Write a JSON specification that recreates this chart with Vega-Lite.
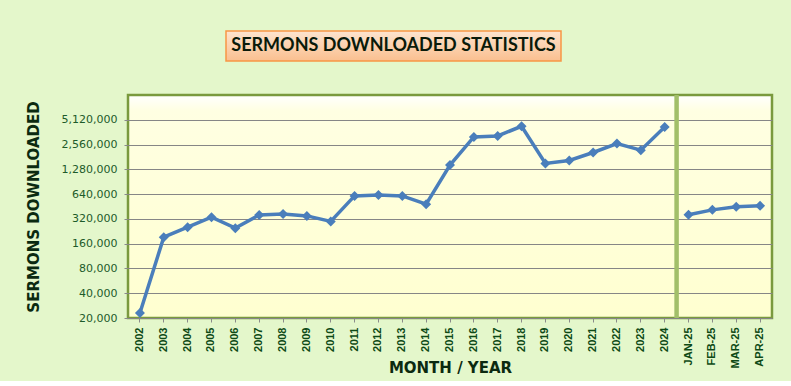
{
  "$schema": "https://vega.github.io/schema/vega-lite/v6.json",
  "background": "#E4F7CB",
  "padding": {"left": 24, "top": 30, "right": 17, "bottom": 4},
  "spacing": 29,
  "datasets": {
    "downloads": [
      {"period": "2002", "downloads": 23000, "segment": "years"},
      {"period": "2003", "downloads": 192000, "segment": "years"},
      {"period": "2004", "downloads": 254000, "segment": "years"},
      {"period": "2005", "downloads": 335000, "segment": "years"},
      {"period": "2006", "downloads": 247000, "segment": "years"},
      {"period": "2007", "downloads": 358000, "segment": "years"},
      {"period": "2008", "downloads": 368000, "segment": "years"},
      {"period": "2009", "downloads": 348000, "segment": "years"},
      {"period": "2010", "downloads": 298000, "segment": "years"},
      {"period": "2011", "downloads": 609000, "segment": "years"},
      {"period": "2012", "downloads": 626000, "segment": "years"},
      {"period": "2013", "downloads": 609000, "segment": "years"},
      {"period": "2014", "downloads": 482000, "segment": "years"},
      {"period": "2015", "downloads": 1442000, "segment": "years"},
      {"period": "2016", "downloads": 3170000, "segment": "years"},
      {"period": "2017", "downloads": 3260000, "segment": "years"},
      {"period": "2018", "downloads": 4270000, "segment": "years"},
      {"period": "2019", "downloads": 1508000, "segment": "years"},
      {"period": "2020", "downloads": 1640000, "segment": "years"},
      {"period": "2021", "downloads": 2050000, "segment": "years"},
      {"period": "2022", "downloads": 2630000, "segment": "years"},
      {"period": "2023", "downloads": 2190000, "segment": "years"},
      {"period": "2024", "downloads": 4190000, "segment": "years"},
      {"period": "JAN-25", "downloads": 359000, "segment": "months"},
      {"period": "FEB-25", "downloads": 412000, "segment": "months"},
      {"period": "MAR-25", "downloads": 448000, "segment": "months"},
      {"period": "APR-25", "downloads": 461000, "segment": "months"}
    ],
    "divider": [{"period": "JAN-25"}],
    "heading": [{"t": "SERMONS DOWNLOADED STATISTICS"}],
    "blank": [{"t": ""}]
  },
  "vconcat": [
    {
      "spacing": 0,
      "hconcat": [
        {
          "width": 97,
          "height": 30,
          "view": {"stroke": null, "fill": null},
          "data": {"name": "blank"},
          "mark": {"type": "text"},
          "encoding": {"text": {"field": "t", "type": "nominal"}}
        },
        {
          "width": 335,
          "height": 30,
          "view": {
            "fill": {"gradient": "linear", "x1": 0, "y1": 0, "x2": 0, "y2": 1,
              "stops": [{"offset": 0, "color": "#FDE4CF"}, {"offset": 1, "color": "#FABF8F"}]},
            "stroke": "#F79646",
            "strokeWidth": 1.5
          },
          "data": {"name": "heading"},
          "mark": {"type": "text", "font": "Lato", "fontWeight": "bold", "fontSize": 18, "color": "#0A1A0A", "align": "center", "baseline": "middle"},
          "encoding": {"text": {"field": "t", "type": "nominal"}}
        }
      ]
    },
    {
      "width": 644,
      "height": 223,
      "view": {
        "fill": {"gradient": "linear", "x1": 0, "y1": 0, "x2": 0, "y2": 1,
          "stops": [{"offset": 0, "color": "#FFFFFF"}, {"offset": 0.07, "color": "#FFFFE2"}, {"offset": 1, "color": "#FFFFD0"}]},
        "stroke": "#7A9A3E",
        "strokeWidth": 2.5
      },
      "encoding": {
        "x": {
          "field": "period",
          "type": "nominal",
          "sort": null,
          "scale": {
            "type": "band",
            "paddingInner": 0,
            "paddingOuter": 0,
            "domain": ["2002","2003","2004","2005","2006","2007","2008","2009","2010","2011","2012","2013","2014","2015","2016","2017","2018","2019","2020","2021","2022","2023","2024","JAN-25","FEB-25","MAR-25","APR-25"]
          },
          "axis": {
            "title": "MONTH / YEAR",
            "labelAngle": -90,
            "labelFont": "Liberation Sans",
            "labelFontWeight": "bold",
            "labelFontSize": 11,
            "labelColor": "#0E4A16",
            "labelPadding": 5,
            "ticks": true,
            "tickSize": 4,
            "tickColor": "#8A8A8A",
            "tickBand": "center",
            "domain": false,
            "grid": false,
            "titleFont": "DejaVu Sans",
            "titleFontWeight": "bold",
            "titleFontSize": 15,
            "titleColor": "#0B2A10",
            "titleBaseline": "alphabetic",
            "titleY": 54
          }
        }
      },
      "layer": [
        {
          "data": {"name": "divider"},
          "mark": {"type": "rule", "color": "#A2BF69", "strokeWidth": 4.5, "y2Offset": 2},
          "encoding": {
            "x": {"field": "period", "type": "nominal", "bandPosition": 0}
          }
        },
        {
          "data": {"name": "downloads"},
          "mark": {
            "type": "line",
            "color": "#4A7EBB",
            "strokeWidth": 3.5,
            "point": {"shape": "diamond", "size": 100, "filled": true, "color": "#4A7EBB"}
          },
          "encoding": {
            "x": {"field": "period", "type": "nominal", "sort": null, "bandPosition": 0.5},
            "y": {
              "field": "downloads",
              "type": "quantitative",
              "scale": {"type": "log", "base": 2, "domain": [20000, 10240000], "nice": false},
              "axis": {
                "title": "SERMONS DOWNLOADED",
                "values": [20000, 40000, 80000, 160000, 320000, 640000, 1280000, 2560000, 5120000],
                "format": ",d",
                "labelFont": "DejaVu Sans",
                "labelFontSize": 11,
                "labelColor": "#1D5B2A",
                "labelPadding": 7,
                "tickSize": 4,
                "tickColor": "#8A8A8A",
                "domain": false,
                "grid": true,
                "gridColor": "#868686",
                "gridWidth": 1,
                "titleFont": "DejaVu Sans",
                "titleFontWeight": "bold",
                "titleFontSize": 15,
                "titleColor": "#0B2A10",
                "titlePadding": 20
              }
            },
            "detail": {"field": "segment", "type": "nominal"}
          }
        }
      ]
    }
  ]
}
